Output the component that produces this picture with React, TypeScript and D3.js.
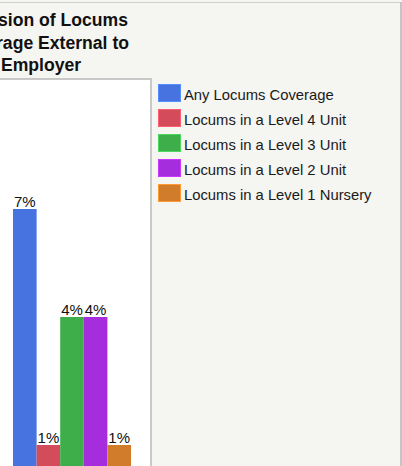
import React, { Component, createRef } from "react";
import * as d3 from "d3";

const seriesNames = [
  "Any Locums Coverage",
  "Locums in a Level 4 Unit",
  "Locums in a Level 3 Unit",
  "Locums in a Level 2 Unit",
  "Locums in a Level 1 Nursery",
];
const seriesValues = [7.0, 1.1, 4.3, 4.3, 1.1];
const seriesColors = ["#4673e0", "#d44b5b", "#3dae4a", "#a52ddd", "#d07c2b"];
const titleLines = ["Provision of Locums", "Coverage External to", "Employer"];

const WIDTH = 402;
const HEIGHT = 466;
const FONT = "'Liberation Sans', Arial, Helvetica, sans-serif";

type Row = { name: string; value: number; color: string };

class App extends Component {
  ref = createRef<SVGSVGElement>();

  componentDidMount() {
    this.draw();
  }

  draw = () => {
    const svg = d3.select(this.ref.current);
    svg.selectAll("*").remove();

    const rows: Row[] = seriesNames.map((name, i) => ({
      name,
      value: seriesValues[i],
      color: seriesColors[i],
    }));

    // page background + frame
    svg.append("rect").attr("width", WIDTH).attr("height", HEIGHT).attr("fill", "#f5f5f1");
    svg.append("line").attr("x1", 0).attr("x2", 401).attr("y1", 2.5).attr("y2", 2.5)
      .attr("stroke", "#cfcfcf");
    svg.append("line").attr("x1", 401).attr("x2", 401).attr("y1", 2).attr("y2", HEIGHT)
      .attr("stroke", "#b5b5b5").attr("stroke-width", 1.5);

    // plot area (left part is cut off by the crop)
    svg.append("rect")
      .attr("x", -60).attr("y", 79).attr("width", 211).attr("height", 500)
      .attr("fill", "#ffffff").attr("stroke", "#b8b8b8").attr("stroke-width", 1.5);

    // title
    svg.append("g").selectAll("text").data(titleLines).enter().append("text")
      .attr("x", 41)
      .attr("y", (_, i) => 26 + i * 22.5)
      .attr("text-anchor", "middle")
      .style("font-family", FONT).style("font-size", "17.6px").style("font-weight", "bold")
      .attr("fill", "#111")
      .text((d) => d);

    const x = d3.scaleBand<string>().domain(seriesNames).range([13, 131]).padding(0);
    const y = d3.scaleLinear().domain([0, 10]).range([489, 89]);

    svg.append("g").selectAll("rect").data(rows).enter().append("rect")
      .attr("x", (d) => x(d.name)!)
      .attr("y", (d) => y(d.value))
      .attr("width", x.bandwidth())
      .attr("height", (d) => y(0) - y(d.value))
      .attr("fill", (d) => d.color);

    svg.append("g").selectAll("text").data(rows).enter().append("text")
      .attr("x", (d) => x(d.name)! + x.bandwidth() / 2)
      .attr("y", (d) => y(d.value) - 2)
      .attr("text-anchor", "middle")
      .style("font-family", FONT).style("font-size", "15px")
      .attr("fill", "#111")
      .text((d) => `${Math.round(d.value)}%`);

    // legend
    const legend = svg.append("g").selectAll("g").data(rows).enter().append("g")
      .attr("transform", (_, i) => `translate(158,${84 + i * 25})`);
    legend.append("rect")
      .attr("x", 0.5).attr("y", 0.5).attr("width", 22).attr("height", 17)
      .attr("fill", (d) => d.color)
      .attr("stroke", (d) => d3.color(d.color)!.brighter(0.6).toString());
    legend.append("text")
      .attr("x", 26).attr("y", 15.5)
      .style("font-family", FONT).style("font-size", "14.8px")
      .attr("fill", "#1a1a1a")
      .text((d) => d.name);
  };

  render() {
    return (
      <div style={{ position: "fixed", left: 0, top: 0 }}>
        <svg ref={this.ref} width={WIDTH} height={HEIGHT} style={{ display: "block" }} />
      </div>
    );
  }
}

export default App;
